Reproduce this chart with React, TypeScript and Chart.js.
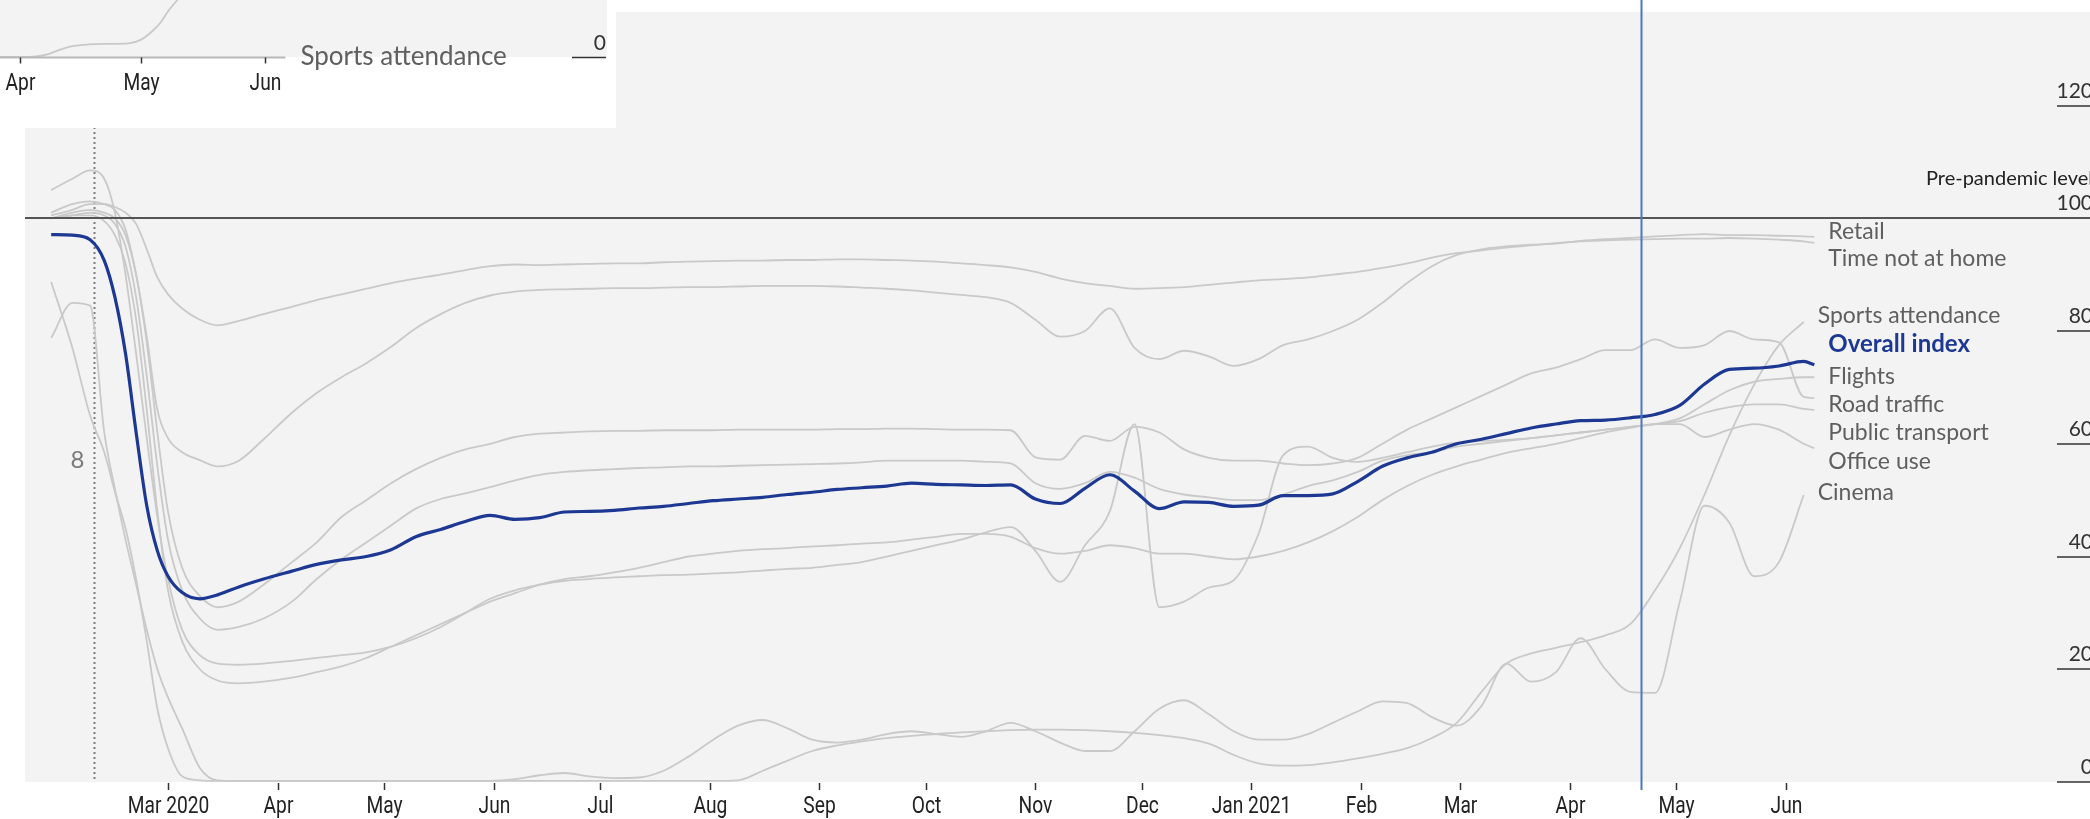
import React, { useEffect, useRef } from "react";
import { Chart, registerables } from "chart.js";

Chart.register(...registerables);

// ---------- DATA ----------
const dates = [
  "2020-01-28","2020-02-03","2020-02-08","2020-02-12","2020-02-15","2020-02-18","2020-02-21","2020-02-24","2020-02-27","2020-03-01",
  "2020-03-05","2020-03-10","2020-03-15","2020-03-21","2020-03-28","2020-04-05","2020-04-12","2020-04-19","2020-04-26","2020-05-03",
  "2020-05-10","2020-05-17","2020-05-24","2020-05-31","2020-06-07","2020-06-14","2020-06-21","2020-06-28","2020-07-05","2020-07-12",
  "2020-07-19","2020-07-26","2020-08-02","2020-08-09","2020-08-16","2020-08-23","2020-08-30","2020-09-06","2020-09-13","2020-09-20",
  "2020-09-27","2020-10-04","2020-10-11","2020-10-18","2020-10-25","2020-11-01","2020-11-08","2020-11-15","2020-11-22","2020-11-29",
  "2020-12-06","2020-12-13","2020-12-20","2020-12-27","2021-01-03","2021-01-10","2021-01-17","2021-01-24","2021-01-31","2021-02-07",
  "2021-02-14","2021-02-21","2021-02-28","2021-03-07","2021-03-14","2021-03-21","2021-03-28","2021-04-04","2021-04-11","2021-04-18",
  "2021-04-25","2021-05-02","2021-05-09","2021-05-16","2021-05-23","2021-05-30","2021-06-06","2021-06-09",
];

const overallIndex = [
  97.1, 97.0, 96.2, 92.5, 86, 76, 62, 49, 41, 36.5,
  33.6, 32.5, 33.2, 34.6, 36, 37.4, 38.6, 39.4, 40, 41.2,
  43.5, 44.8, 46.2, 47.3, 46.6, 46.9, 47.9, 48, 48.2, 48.6,
  48.9, 49.4, 49.9, 50.2, 50.5, 51, 51.4, 51.9, 52.2, 52.5,
  53, 52.8, 52.7, 52.6, 52.7, 50.2, 49.4, 52.1, 54.5, 51.6,
  48.5, 49.7, 49.6, 48.9, 49.1, 50.8, 50.8, 51.1, 53.3, 56,
  57.5, 58.5, 60, 60.8, 61.8, 62.8, 63.5, 64.1, 64.2, 64.6,
  65.2, 66.8, 70.6, 73.2, 73.4, 73.8, 74.6, 74,
];

const timeNotAtHome = [
  100.5, 101.5, 102.5, 102.5, 102, 101, 99, 94.5, 89.5, 86.5,
  84, 82, 81, 81.8, 83, 84.3, 85.5, 86.5, 87.5, 88.5,
  89.3, 90, 90.8, 91.5, 91.8, 91.7, 91.8, 91.9, 92, 92,
  92.2, 92.3, 92.4, 92.5, 92.5, 92.6, 92.6, 92.7, 92.7, 92.6,
  92.5, 92.3, 92, 91.7, 91.3, 90.5, 89.3, 88.5, 88, 87.5,
  87.6, 87.8, 88.2, 88.6, 89, 89.2, 89.5, 90, 90.5, 91.2,
  92, 93, 93.8, 94.3, 94.8, 95.2, 95.6, 95.9, 96.1, 96.2,
  96.3, 96.4, 96.4, 96.5, 96.4, 96.2, 95.9, 95.6,
];

const retail = [
  101, 102.5, 103, 102.5, 101.5, 98, 90, 79, 66, 61,
  58.5, 57.1, 56, 57, 60.8, 65.5, 69, 71.8, 74.3, 77.2,
  80.5, 83, 85, 86.3, 87, 87.3, 87.4, 87.5, 87.6, 87.6,
  87.7, 87.8, 87.8, 87.9, 88, 88, 88, 87.9, 87.7, 87.5,
  87.2, 86.8, 86.4, 86, 85, 82, 79, 80, 84, 77,
  75, 76.5, 75.5, 73.8, 75, 77.5, 78.5, 80, 82, 85,
  88.5, 91.5, 93.5, 94.5, 95, 95.3, 95.5, 96, 96.3, 96.5,
  96.8, 97, 97.2, 97, 97, 96.9, 96.8, 96.7,
];

const roadTraffic = [
  100, 101, 101.5, 101, 100, 97, 90, 78, 62, 48,
  38, 33, 31, 32, 35, 39, 42.5, 47, 50, 53,
  55.5, 57.5, 59, 60, 61.2, 61.8, 62, 62.2, 62.3, 62.3,
  62.4, 62.4, 62.4, 62.5, 62.5, 62.5, 62.5, 62.6, 62.6, 62.7,
  62.7, 62.6, 62.5, 62.5, 62.4, 57.6, 57.2, 61.4, 60.5, 63,
  62, 59, 57.5, 57, 57, 56.5, 56.2, 56.5, 57.5, 60,
  62.5, 64.5, 66.5, 68.5, 70.5, 72.5, 73.5, 75, 76.6, 76.6,
  78.5, 77, 77.5, 80, 78.5, 78, 68.3, 68.1,
];

const publicTransport = [
  100, 100.5, 101, 100.5, 99, 95, 86, 72, 56, 43,
  34, 29, 27, 27.5, 29, 32, 36, 39.5, 42.5, 45.5,
  48.5, 50.2, 51.2, 52.3, 53.5, 54.5, 55, 55.3, 55.5, 55.7,
  55.8, 56, 56, 56.1, 56.2, 56.3, 56.4, 56.5, 56.7, 57,
  57, 57, 57, 56.8, 56.5, 53, 52, 53, 55, 54,
  52, 51, 50.5, 50, 50, 51, 52.5, 53.5, 55, 57,
  58, 58.5, 59.5, 60, 60.5, 61, 61.5, 62, 62.5, 63,
  63.5, 64, 65.5, 66.5, 67, 67, 66.2, 66,
];

const officeUse = [
  100, 100.5, 100.5, 99.5, 97, 92, 82, 66, 48, 34,
  25, 20, 18, 17.5, 17.8, 18.5, 19.5, 20.5, 22, 24,
  26, 28, 30, 32, 33.5, 35, 36, 36.5, 37.2, 38,
  39, 40, 40.5, 41, 41.3, 41.5, 41.8, 42, 42.3, 42.5,
  43, 43.5, 44, 44, 43.5, 41.5, 40.5, 41, 42, 41.5,
  40.5, 40.5, 40, 39.5, 40, 41, 42.5, 44.5, 47, 50,
  52.5, 54.5, 56, 57.2, 58.4, 59.2, 60, 61, 62, 62.8,
  63.5, 63.5, 61.2, 62.5, 63.5, 62.5, 60, 59.2,
];

const flights = [
  105, 107, 108.5, 107, 101, 90, 76, 61, 47, 36,
  27, 22.5, 21, 20.8, 21, 21.5, 22, 22.5, 23, 24,
  25.5, 27.5, 30, 32.5, 34, 35, 35.7, 36, 36.3, 36.5,
  36.7, 36.8, 37, 37.2, 37.5, 37.8, 38, 38.5, 39, 40,
  41, 42, 43, 44.3, 45.2, 41, 35.5, 42, 48, 63.5,
  31, 32, 34.5, 35.8, 44, 58, 59.5, 57.5, 56.8, 57.5,
  58.5, 59.5, 60.2, 60.5, 60.7, 61, 61.5, 62, 62.5, 63,
  63.5, 64.5, 67, 69.5, 71, 71.5, 71.8, 71.8,
];

const sportsAttendance = [
  78.8, 85, 84.5, 62, 52, 43, 35, 27, 20, 15,
  9.5, 2.5, 0.3, 0.2, 0.2, 0.2, 0.2, 0.2, 0.2, 0.2,
  0.2, 0.2, 0.2, 0.2, 0.2, 0.2, 0.2, 0.2, 0.2, 0.2,
  0.2, 0.2, 0.2, 0.3, 2, 3.8, 5.5, 6.5, 7.2, 7.8,
  8.2, 8.5, 8.8, 9, 9.2, 9.3, 9.3, 9.2, 9, 8.7,
  8.3, 7.8, 6.8, 4.8, 3.3, 2.9, 3, 3.5, 4.2, 5,
  6, 7.8, 10.5, 16, 21, 22.8, 23.8, 24.8, 26, 28,
  34, 41.5, 51, 61.5, 70.5, 77.5, 81.6, null,
];

const cinema = [
  88.7, 77, 65, 58.5, 51.5, 45, 36, 25, 13, 6,
  1, 0.3, 0.2, 0.2, 0.2, 0.2, 0.2, 0.2, 0.2, 0.2,
  0.2, 0.2, 0.2, 0.2, 0.5, 1.2, 1.6, 1.0, 0.7, 0.8,
  2, 4.5, 7.5, 10, 11, 9.5, 7.5, 7, 7.5, 8.5,
  9, 8.5, 8, 9, 10.5, 9, 7, 5.5, 5.5, 9,
  13, 14.5, 12, 9, 7.5, 7.5, 8.5, 10.5, 12.5, 14.3,
  14, 11.5, 10, 13.5, 21, 17.8, 19.5, 25.5, 20, 16,
  15.8, 32, 49, 46, 36.5, 39, 50.9, null,
];

const grayNames = ["Retail", "Time not at home", "Sports attendance", "Flights", "Road traffic", "Public transport", "Office use", "Cinema"];
const grayValues = [retail, timeNotAtHome, sportsAttendance, flights, roadTraffic, publicTransport, officeUse, cinema];

// end-label layout (name, vertical level in index points)
const labelNames = ["Retail", "Time not at home", "Sports attendance", "Overall index", "Flights", "Road traffic", "Public transport", "Office use", "Cinema"];
const labelLevels = [97.6, 92.9, 82.8, 77.7, 72.0, 66.9, 61.9, 56.9, 51.3];

const monthTicks = [
  "2020-03-01","2020-04-01","2020-05-01","2020-06-01","2020-07-01","2020-08-01","2020-09-01","2020-10-01",
  "2020-11-01","2020-12-01","2021-01-01","2021-02-01","2021-03-01","2021-04-01","2021-05-01","2021-06-01",
];
const monthLabels = ["Mar 2020","Apr","May","Jun","Jul","Aug","Sep","Oct","Nov","Dec","Jan 2021","Feb","Mar","Apr","May","Jun"];
const yTicks = [0, 20, 40, 60, 80, 100, 120];
const referenceLevel = 100;
const referenceLabel = "Pre-pandemic level";
const markerDate = "2020-02-09";
const markerLabel = "8";
const markerLabelLevel = 57;
const highlightDate = "2021-04-21";

// inset (sports attendance, close-up)
const insetDates = ["2021-03-27","2021-04-01","2021-04-05","2021-04-08","2021-04-11","2021-04-14","2021-04-18","2021-04-23","2021-04-28","2021-05-01","2021-05-04","2021-05-06","2021-05-08","2021-05-11","2021-05-14"];
const insetValues = [0, 0, 0.1, 0.5, 1.3, 1.9, 2.2, 2.3, 2.4, 3.0, 4.6, 6.1, 8.2, 10.8, 14];
const insetTicks = ["2021-04-01","2021-05-01","2021-06-01"];
const insetTickLabels = ["Apr","May","Jun"];
const insetAxisEnd = "2021-06-06";
const insetLabel = "Sports attendance";

// ---------- HELPERS ----------
const BASE = "2020-03-01";
const INSET_BASE = "2021-04-01";
const dayNum = (s: string, base: string = BASE) =>
  (Date.parse(s + "T00:00:00Z") - Date.parse(base + "T00:00:00Z")) / 86400000;

const PANEL = "#f3f3f3";
const GRAY_LINE = "#c9c9c9";
const BLUE = "#1d3893";
const LABEL_FONT = "Lato, 'Open Sans', sans-serif";
const COND_FONT = "Roboto, 'DejaVu Sans', sans-serif";
const COND_SCALE = 0.8;

const toPoints = (vals: (number | null)[]) =>
  dates.map((d, i) => ({ x: dayNum(d), y: vals[i] })).filter((p) => p.y !== null && p.y !== undefined);

const lastDay = (vals: (number | null)[]) => {
  let i = vals.length - 1;
  while (i > 0 && (vals[i] === null || vals[i] === undefined)) i--;
  return dayNum(dates[i]);
};

const condText = (ctx: any, text: string, cx: number, cy: number) => {
  ctx.save();
  ctx.translate(cx, cy);
  ctx.scale(COND_SCALE, 1);
  ctx.fillText(text, 0, 0);
  ctx.restore();
};

const mainDecor = {
  id: "mainDecor",
  beforeDraw(chart: any) {
    const { ctx, chartArea: a } = chart;
    ctx.save();
    ctx.fillStyle = PANEL;
    ctx.fillRect(a.left, a.top, a.right - a.left, a.bottom - a.top);
    ctx.restore();
  },
  beforeDatasetsDraw(chart: any) {
    const { ctx, chartArea: a, scales } = chart;
    const x = scales.x, y = scales.y;
    const mx = Math.round(x.getPixelForValue(dayNum(markerDate))) + 0.5;
    ctx.save();
    ctx.strokeStyle = "#7d7d7d";
    ctx.lineWidth = 2;
    ctx.setLineDash([2, 3]);
    ctx.beginPath();
    ctx.moveTo(mx, a.top);
    ctx.lineTo(mx, a.bottom);
    ctx.stroke();
    ctx.setLineDash([]);
    ctx.fillStyle = "#7a7a7a";
    ctx.font = `24px ${LABEL_FONT}`;
    ctx.textAlign = "center";
    ctx.textBaseline = "middle";
    ctx.fillText(markerLabel, mx - 17, y.getPixelForValue(markerLabelLevel));
    ctx.restore();
  },
  afterDatasetsDraw(chart: any) {
    const { ctx, chartArea: a, scales } = chart;
    const x = scales.x, y = scales.y;
    ctx.save();
    // reference line at 100
    const ry = Math.round(y.getPixelForValue(referenceLevel));
    ctx.strokeStyle = "#555";
    ctx.lineWidth = 2;
    ctx.beginPath();
    ctx.moveTo(a.left, ry);
    ctx.lineTo(a.right, ry);
    ctx.stroke();

    // highlight vertical line
    const hx = Math.round(x.getPixelForValue(dayNum(highlightDate))) + 0.5;
    ctx.strokeStyle = "#4a78bf";
    ctx.lineWidth = 2;
    ctx.beginPath();
    ctx.moveTo(hx, 0);
    ctx.lineTo(hx, a.bottom + 8);
    ctx.stroke();

    // x ticks and labels
    ctx.strokeStyle = "#333";
    ctx.lineWidth = 1.5;
    ctx.fillStyle = "#222";
    ctx.font = `24px ${COND_FONT}`;
    ctx.textAlign = "center";
    ctx.textBaseline = "middle";
    monthTicks.forEach((d, i) => {
      const tx = Math.round(x.getPixelForValue(dayNum(d))) + 0.5;
      ctx.beginPath();
      ctx.moveTo(tx, a.bottom + 1);
      ctx.lineTo(tx, a.bottom + 8);
      ctx.stroke();
      condText(ctx, monthLabels[i], tx, a.bottom + 25);
    });

    // y ticks on the right
    const tickRight = a.right + 3;
    ctx.textAlign = "right";
    ctx.textBaseline = "alphabetic";
    ctx.fillStyle = "#333";
    ctx.font = `21px ${LABEL_FONT}`;
    yTicks.forEach((v) => {
      const ty = Math.round(y.getPixelForValue(v));
      if (v !== referenceLevel) {
        ctx.beginPath();
        ctx.moveTo(a.right - 33, ty);
        ctx.lineTo(a.right, ty);
        ctx.stroke();
      }
      ctx.fillText(String(v), tickRight, ty - 8);
    });
    ctx.font = `20px ${LABEL_FONT}`;
    ctx.fillStyle = "#222";
    ctx.fillText(referenceLabel, tickRight, ry - 33);

    // series labels
    const ends = [lastDay(retail), lastDay(timeNotAtHome), lastDay(sportsAttendance), lastDay(overallIndex),
      lastDay(flights), lastDay(roadTraffic), lastDay(publicTransport), lastDay(officeUse), lastDay(cinema)];
    ctx.textAlign = "left";
    ctx.textBaseline = "middle";
    labelNames.forEach((n, i) => {
      const lx = x.getPixelForValue(ends[i]) + 14;
      const ly = y.getPixelForValue(labelLevels[i]);
      if (n === "Overall index") {
        ctx.font = `bold 24px ${LABEL_FONT}`;
        ctx.fillStyle = BLUE;
      } else {
        ctx.font = `23px ${LABEL_FONT}`;
        ctx.fillStyle = "#5f5f5f";
      }
      ctx.fillText(n, lx, ly);
    });
    ctx.restore();
  },
};

const insetDecor = {
  id: "insetDecor",
  beforeDraw(chart: any) {
    const { ctx, chartArea: a } = chart;
    ctx.save();
    ctx.fillStyle = PANEL;
    ctx.fillRect(a.left, a.top, a.right - a.left, a.bottom - a.top);
    ctx.restore();
  },
  afterDatasetsDraw(chart: any) {
    const { ctx, chartArea: a, scales } = chart;
    const x = scales.x;
    ctx.save();
    const axEnd = x.getPixelForValue(dayNum(insetAxisEnd, INSET_BASE));
    const by = Math.round(a.bottom) + 0.5;
    ctx.strokeStyle = "#b8b8b8";
    ctx.lineWidth = 2;
    ctx.beginPath();
    ctx.moveTo(a.left, by);
    ctx.lineTo(axEnd, by);
    ctx.stroke();
    ctx.strokeStyle = "#333";
    ctx.lineWidth = 1.5;
    ctx.fillStyle = "#222";
    ctx.font = `24px ${COND_FONT}`;
    ctx.textAlign = "center";
    ctx.textBaseline = "middle";
    insetTicks.forEach((d, i) => {
      const tx = Math.round(x.getPixelForValue(dayNum(d, INSET_BASE))) + 0.5;
      ctx.beginPath();
      ctx.moveTo(tx, by);
      ctx.lineTo(tx, by + 6);
      ctx.stroke();
      condText(ctx, insetTickLabels[i], tx, a.bottom + 27);
    });
    ctx.textAlign = "left";
    ctx.fillStyle = "#5f5f5f";
    ctx.font = `26px ${LABEL_FONT}`;
    ctx.fillText(insetLabel, axEnd + 15, a.bottom);
    // zero tick
    ctx.strokeStyle = "#333";
    ctx.beginPath();
    ctx.moveTo(a.right - 35, by);
    ctx.lineTo(a.right - 1, by);
    ctx.stroke();
    ctx.textAlign = "right";
    ctx.textBaseline = "alphabetic";
    ctx.fillStyle = "#333";
    ctx.font = `21px ${LABEL_FONT}`;
    ctx.fillText("0", a.right - 1, a.bottom - 7);
    ctx.restore();
  },
};

export default function App() {
  const mainRef = useRef<HTMLCanvasElement>(null);
  const insetRef = useRef<HTMLCanvasElement>(null);

  useEffect(() => {
    const grayDatasets = grayValues.map((vals, i) => ({
      label: grayNames[i],
      data: toPoints(vals),
      borderColor: GRAY_LINE,
      borderWidth: 1.8,
      pointRadius: 0,
      cubicInterpolationMode: "monotone" as const,
      order: 2,
    }));
    const main = new Chart(mainRef.current as HTMLCanvasElement, {
      type: "line",
      data: {
        datasets: [
          {
            label: "Overall index",
            data: toPoints(overallIndex),
            borderColor: BLUE,
            borderWidth: 3.2,
            pointRadius: 0,
            cubicInterpolationMode: "monotone",
            order: 0,
          },
          ...grayDatasets,
        ],
      },
      options: {
        animation: false,
        responsive: false,
        events: [],
        layout: { padding: { left: 25, top: 12, right: 0, bottom: 37 } },
        scales: {
          x: { type: "linear", min: -40.39, max: 542.86, display: false },
          y: { type: "linear", min: 0, max: 136.59, display: false },
        },
        plugins: { legend: { display: false }, tooltip: { enabled: false } },
      },
      plugins: [mainDecor],
    } as any);

    const inset = new Chart(insetRef.current as HTMLCanvasElement, {
      type: "line",
      data: {
        datasets: [
          {
            label: insetLabel,
            data: insetDates.map((d, i) => ({ x: dayNum(d, INSET_BASE), y: insetValues[i] })),
            borderColor: GRAY_LINE,
            borderWidth: 1.8,
            pointRadius: 0,
            cubicInterpolationMode: "monotone",
          },
        ],
      },
      options: {
        animation: false,
        responsive: false,
        events: [],
        layout: { padding: { left: 0, top: 0, right: 9, bottom: 71 } },
        scales: {
          x: { type: "linear", min: -5, max: 146, display: false },
          y: { type: "linear", min: 0, max: 10, display: false },
        },
        plugins: { legend: { display: false }, tooltip: { enabled: false } },
      },
      plugins: [insetDecor],
    } as any);

    return () => {
      main.destroy();
      inset.destroy();
    };
  }, []);

  return (
    <div style={{ position: "absolute", left: 0, top: 0, width: 2090, height: 819, background: "#fff", overflow: "hidden" }}>
      <canvas ref={mainRef} width={2090} height={819} style={{ position: "absolute", left: 0, top: 0, width: 2090, height: 819 }} />
      <div style={{ position: "absolute", left: 0, top: 0, width: 616, height: 128, background: "#fff" }}>
        <canvas ref={insetRef} width={616} height={128} style={{ display: "block", width: 616, height: 128 }} />
      </div>
    </div>
  );
}
